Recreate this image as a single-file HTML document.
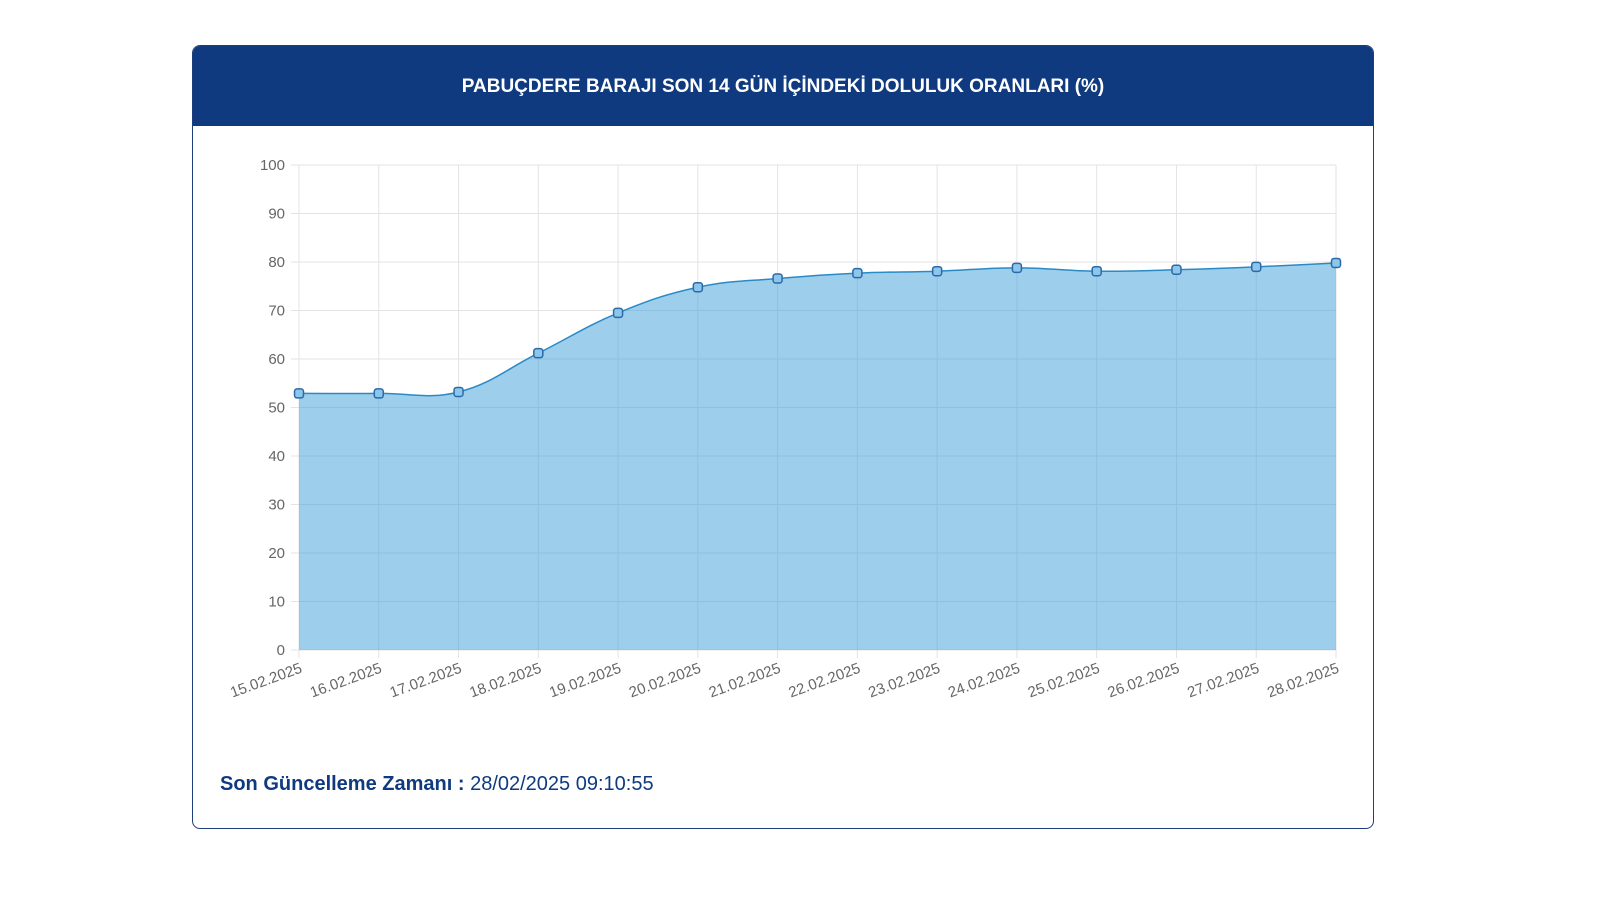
<!DOCTYPE html>
<html><head><meta charset="utf-8"><style>
body{margin:0;width:1600px;height:900px;background:#fff;font-family:"Liberation Sans",sans-serif;position:relative;overflow:hidden}
.card{position:absolute;left:192px;top:45px;width:1180px;height:782px;border:1.5px solid #1f3f7a;border-radius:8px;overflow:hidden;background:#fff}
.hdr{height:80px;background:#0f3a80;color:#fff;font-weight:bold;font-size:19px;text-align:center;line-height:82px}
.foot{position:absolute;left:27px;top:727px;font-size:20px;color:#0f3a80}
svg{position:absolute;left:0;top:0}
</style></head><body>
<div class="card">
<div class="hdr">PABUÇDERE BARAJI SON 14 GÜN İÇİNDEKİ DOLULUK ORANLARI (%)</div>
<div class="foot"><b>Son Güncelleme Zamanı :</b> 28/02/2025 09:10:55</div>
</div>
<svg id="c" width="1600" height="900"></svg>
<script>
const categories=["15.02.2025","16.02.2025","17.02.2025","18.02.2025","19.02.2025","20.02.2025","21.02.2025","22.02.2025","23.02.2025","24.02.2025","25.02.2025","26.02.2025","27.02.2025","28.02.2025"];
const values=[52.9,52.9,53.2,61.2,69.5,74.8,76.6,77.7,78.1,78.8,78.1,78.4,79.0,79.8];
const yTicks=[0,10,20,30,40,50,60,70,80,90,100];
const NS="http://www.w3.org/2000/svg",svg=document.getElementById('c');
const X0=299,X1=1336,Y0=650,Y1=165;
const x=i=>X0+(X1-X0)*i/(categories.length-1);
const y=v=>Y0-(Y0-Y1)*v/100;
function el(t,a,p){const e=document.createElementNS(NS,t);for(const k in a)e.setAttribute(k,a[k]);(p||svg).appendChild(e);return e;}
yTicks.forEach(t=>{
 const g=el('line',{x1:X0-8,x2:X1,y1:y(t),y2:y(t),stroke:'#e3e3e3'});
 
 
 const tx=el('text',{x:X0-14,y:y(t)+5,'text-anchor':'end','font-size':'15','fill':'#666','font-family':'Liberation Sans'});
 tx.textContent=t;
 
 
});
categories.forEach((c,i)=>{
 const g=el('line',{x1:x(i),x2:x(i),y1:Y1,y2:Y0+8,stroke:'#e3e3e3'});
 
 
 const tx=el('text',{x:0,y:0,'text-anchor':'end','font-size':'15','fill':'#666','font-family':'Liberation Sans',transform:`translate(${x(i)+4},${Y0+22}) rotate(-20)`});
 tx.textContent=c;
 
 
});
const pts=values.map((v,i)=>[x(i),y(v)]);
let d=`M${pts[0][0]},${pts[0][1]}`;const T=0.4;
function cps(i){const p=pts[Math.max(i-1,0)],c=pts[i],n=pts[Math.min(i+1,pts.length-1)];
 const d01=Math.hypot(c[0]-p[0],c[1]-p[1]),d12=Math.hypot(n[0]-c[0],n[1]-c[1]);
 let fa=d01/(d01+d12)||0,fb=d12/(d01+d12)||0;fa*=T;fb*=T;
 return [[c[0]-fa*(n[0]-p[0]),c[1]-fa*(n[1]-p[1])],[c[0]+fb*(n[0]-p[0]),c[1]+fb*(n[1]-p[1])]];}
const cp=pts.map((_,i)=>cps(i));
for(let i=1;i<pts.length;i++){const a=cp[i-1][1],b=cp[i][0];d+=` C${a[0]},${a[1]} ${b[0]},${b[1]} ${pts[i][0]},${pts[i][1]}`;}
const area=el('path',{d:d+` L${X1},${Y0} L${X0},${Y0} Z`,fill:'rgba(60,160,220,0.5)'});


const ln=el('path',{d:d,fill:'none',stroke:'#2a8ac6','stroke-width':'1.5'});


pts.forEach(p=>{
 const r=el('rect',{x:p[0]-4.5,y:p[1]-4.5,width:9,height:9,rx:2.5,fill:'#8cc6ea',stroke:'#2a6aa8','stroke-width':'1.5'});
 
 
});
</script>
</body></html>
